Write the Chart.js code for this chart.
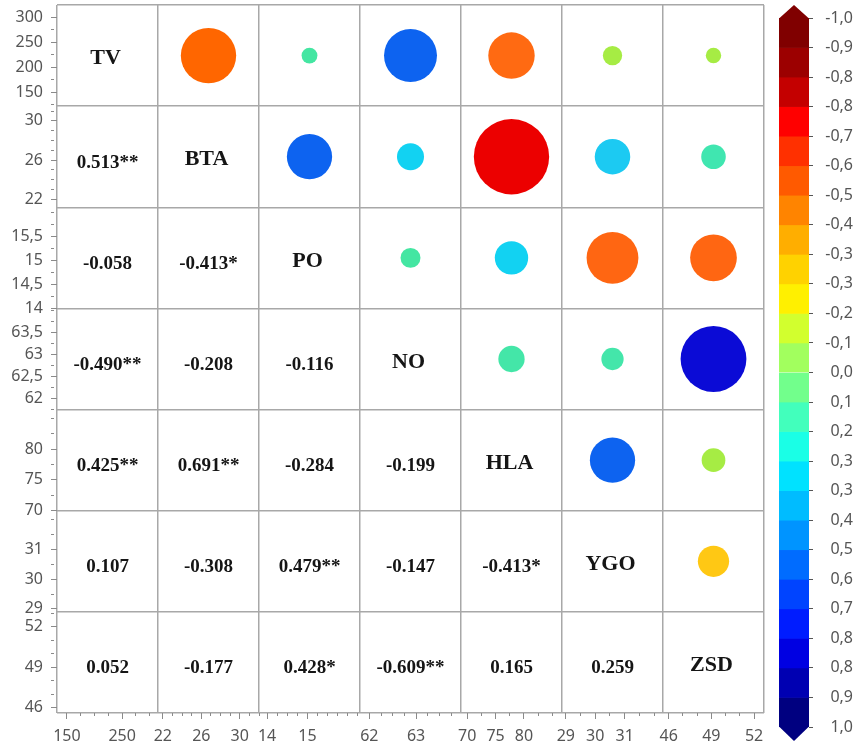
<!DOCTYPE html>
<html>
<head>
<meta charset="utf-8">
<script src="https://cdn.jsdelivr.net/npm/chart.js@4.4.1/dist/chart.umd.min.js"></script>
<style>
  html, body { margin: 0; padding: 0; background: #ffffff; }
  #wrap { position: relative; width: 858px; height: 749px; overflow: hidden; background: #ffffff; }
  #matrix { position: absolute; left: 0; top: 0; }
  #scale { position: absolute; left: 770px; top: 0; }
</style>
</head>
<body>
<div id="wrap">
  <canvas id="matrix" width="770" height="749"></canvas>
  <canvas id="scale" width="88" height="749"></canvas>
</div>
<script>
// ---- Variables ------------------------------------------------------------
const variables = ['TV', 'BTA', 'PO', 'NO', 'HLA', 'YGO', 'ZSD'];

// Pearson coefficients below the diagonal, one array per row (columns start at TV)
const rBTA = [0.513];
const rPO  = [-0.058, -0.413];
const rNO  = [-0.490, -0.208, -0.116];
const rHLA = [0.425, 0.691, -0.284, -0.199];
const rYGO = [0.107, -0.308, 0.479, -0.147, -0.413];
const rZSD = [0.052, -0.177, 0.428, -0.609, 0.165, 0.259];
const coefficients = [[], rBTA, rPO, rNO, rHLA, rYGO, rZSD];

// Significance marks (* p < 0.05, ** p < 0.01), same layout as the coefficients
const sigBTA = ['**'];
const sigPO  = ['', '*'];
const sigNO  = ['**', '', ''];
const sigHLA = ['**', '**', '', ''];
const sigYGO = ['', '', '**', '', '*'];
const sigZSD = ['', '', '*', '**', '', ''];
const significance = [[], sigBTA, sigPO, sigNO, sigHLA, sigYGO, sigZSD];

// Per-variable axes: value range, labelled ticks and minor tick step
const rowRanges = [[122, 324], [21.2, 31.5], [14, 16.1], [61.75, 64.05], [70, 86.4], [28.9, 32.3], [45.6, 53.1]];
const colRanges = [[132, 315], [21.5, 32], [13.8, 16.3], [61.8, 63.96], [68.9, 86.7], [28.87, 32.3], [45.6, 52.7]];
const rowMajorTicks = [[150, 200, 250, 300], [22, 26, 30], [14, 14.5, 15, 15.5], [62, 62.5, 63, 63.5], [70, 75, 80], [29, 30, 31], [46, 49, 52]];
const colMajorTicks = [[150, 250], [22, 26, 30], [14, 15], [62, 63], [70, 75, 80], [29, 30, 31], [46, 49, 52]];
const rowMinorSteps = [25, 1, 0.25, 0.25, 2.5, 0.5, 1];
const colMinorSteps = [25, 1, 0.25, 0.25, 2.5, 0.5, 1];

// Colour legend: tick labels and the 24 bands from -1 (top) to 1 (bottom)
const legendTickLabels = ['-1,0', '-0,9', '-0,8', '-0,8', '-0,7', '-0,6', '-0,5', '-0,4', '-0,3', '-0,3', '-0,2', '-0,1',
                          '0,0', '0,1', '0,2', '0,3', '0,3', '0,4', '0,5', '0,6', '0,7', '0,8', '0,8', '0,9', '1,0'];

// ---- Styles ---------------------------------------------------------------
const legendColours = ['#800000', '#9c0000', '#c40000', '#ff0000', '#ff3000', '#ff5a00', '#ff8400', '#ffae00',
                       '#ffd200', '#fff000', '#d2ff2e', '#a2ff5e', '#72ff8c', '#42ffbc', '#1affe6', '#00e2ff',
                       '#00bcff', '#0094ff', '#006cff', '#0044ff', '#001cff', '#0000e2', '#0000b2', '#000080'];
const bubbleColours = [
  [],
  ['#ff6600'],
  ['#44e6a2', '#0d63f0'],
  ['#0d63f0', '#12d2f2', '#44e6a2'],
  ['#ff6a12', '#ec0000', '#12d2f2', '#44e6a8'],
  ['#a6ec44', '#1ccaf2', '#ff6612', '#44e6aa', '#0d63f0'],
  ['#a6ec44', '#40e6b0', '#ff6612', '#0b0bd6', '#a6ec44', '#ffc814']
];
const gridColour = '#a8a8a8';
const axisTextColour = '#555555';
const axisFont = { family: "'Noto Sans', sans-serif", size: 16 };

Chart.defaults.font.family = "'Noto Sans', sans-serif";

// Bubble radius (px) grows with |r|
function bubbleRadius(r) {
  const a = Math.abs(r);
  return 6 + 32 * a + 20 * a * a;
}

function tickList(range, step) {
  const out = [];
  const start = Math.ceil(range[0] / step - 1e-9);
  for (let k = start; k * step <= range[1] + 1e-9; k++) {
    out.push(Math.round(k * step * 1e6) / 1e6);
  }
  return out;
}
const isMajor = (majors, v) => majors.some(m => Math.abs(m - v) < 1e-6);
const decimalComma = v => String(v).replace('.', ',');

// Stop axis labels near the ends from pushing the plot area inwards
function noEdgePadding(s) {
  s.paddingTop = 0; s.paddingBottom = 0; s.paddingLeft = 0; s.paddingRight = 0;
}

// ---- Bubbles (upper triangle) ----------------------------------------------
const bubblePoints = [];
const bubbleFill = [];
coefficients.forEach((row, i) => {
  row.forEach((r, j) => {
    bubblePoints.push({ x: variables[i], y: variables[j], r: bubbleRadius(r) });
    bubbleFill.push(bubbleColours[i][j]);
  });
});

// ---- Scales ---------------------------------------------------------------
const scales = {
  x: {
    type: 'category', labels: variables, position: 'bottom', offset: true,
    grid: { offset: true, color: gridColour, lineWidth: 1.5, drawTicks: false },
    ticks: { display: false }, border: { display: false },
    afterFit: s => { s.height = 0; noEdgePadding(s); }
  },
  y: {
    type: 'category', labels: variables, position: 'left', offset: true,
    grid: { offset: true, color: gridColour, lineWidth: 1.5, drawTicks: false },
    ticks: { display: false }, border: { display: false },
    afterFit: s => { s.width = 0; noEdgePadding(s); }
  }
};

function variableAxis(k, horizontal) {
  const range = horizontal ? colRanges[k] : rowRanges[k];
  const majors = horizontal ? colMajorTicks[k] : rowMajorTicks[k];
  const step = horizontal ? colMinorSteps[k] : rowMinorSteps[k];
  return {
    type: 'linear',
    position: horizontal ? 'bottom' : 'left',
    stack: horizontal ? 'columns' : 'rows',
    stackWeight: 1,
    weight: horizontal ? k + 1 : 7 - k,
    min: range[0], max: range[1],
    bounds: 'data',
    afterBuildTicks: s => { s.ticks = tickList(range, step).map(v => ({ value: v })); },
    afterFit: s => {
      if (horizontal) { s.height = 36; } else { s.width = 57; }
      noEdgePadding(s);
    },
    ticks: {
      autoSkip: false, maxRotation: 0, minRotation: 0,
      padding: 8,
      color: axisTextColour, font: axisFont,
      callback: v => isMajor(majors, v) ? decimalComma(v) : ''
    },
    grid: {
      drawOnChartArea: false, drawTicks: true, tickLength: 6,
      tickColor: '#8a8a8a', tickWidth: 1,
      tickBorderDash: ctx => (ctx.tick && isMajor(majors, ctx.tick.value)) ? [] : [3, 40]
    },
    border: { display: false }
  };
}
variables.forEach((_, k) => { scales['row' + k] = variableAxis(k, false); });
variables.forEach((_, k) => { scales['col' + k] = variableAxis(k, true); });

// ---- Text in the lower triangle and on the diagonal ------------------------
const cellText = {
  id: 'cellText',
  afterDatasetsDraw(chart) {
    const ctx = chart.ctx;
    const xs = chart.scales.x, ys = chart.scales.y;
    ctx.save();
    ctx.textAlign = 'center';
    ctx.textBaseline = 'middle';
    ctx.fillStyle = '#151515';
    variables.forEach((name, i) => {
      ctx.font = "bold 22px 'Liberation Serif', 'Times New Roman', serif";
      ctx.fillText(name, xs.getPixelForValue(i) - 2, ys.getPixelForValue(i) + 3);
      ctx.font = "bold 19px 'Liberation Serif', 'Times New Roman', serif";
      coefficients[i].forEach((r, j) => {
        const text = r.toFixed(3) + significance[i][j];
        ctx.fillText(text, xs.getPixelForValue(j), ys.getPixelForValue(i) + 6);
      });
    });
    ctx.restore();
  }
};

new Chart(document.getElementById('matrix'), {
  type: 'bubble',
  data: {
    datasets: [{
      data: bubblePoints,
      backgroundColor: bubbleFill,
      borderColor: bubbleFill,
      borderWidth: 0,
      xAxisID: 'x', yAxisID: 'y'
    }]
  },
  options: {
    responsive: false,
    animation: false,
    events: [],
    clip: false,
    layout: { autoPadding: false, padding: { top: 5, right: 6, bottom: 0, left: 0 } },
    plugins: { legend: { display: false }, tooltip: { enabled: false } },
    scales
  },
  plugins: [cellText]
});

// ---- Colour legend --------------------------------------------------------
const legendEdges = legendTickLabels.map((_, k) => -1 + k / 12);
const legendDatasets = legendColours.map((c, k) => ({
  data: [[legendEdges[k], legendEdges[k + 1]]],
  backgroundColor: c,
  borderWidth: 0,
  grouped: false,
  barPercentage: 1,
  categoryPercentage: 1
}));

const legendArrows = {
  id: 'legendArrows',
  afterDatasetsDraw(chart) {
    const { left, right } = chart.chartArea;
    const y = chart.scales.y;
    const top = y.getPixelForValue(-1);
    const bottom = y.getPixelForValue(1);
    const mid = (left + right) / 2;
    const ctx = chart.ctx;
    ctx.save();
    ctx.fillStyle = legendColours[0];
    ctx.beginPath();
    ctx.moveTo(left, top + 0.5); ctx.lineTo(right, top + 0.5); ctx.lineTo(mid, top - 13); ctx.closePath();
    ctx.fill();
    ctx.fillStyle = legendColours[legendColours.length - 1];
    ctx.beginPath();
    ctx.moveTo(left, bottom - 0.5); ctx.lineTo(right, bottom - 0.5); ctx.lineTo(mid, bottom + 14); ctx.closePath();
    ctx.fill();
    ctx.restore();
  }
};

new Chart(document.getElementById('scale'), {
  type: 'bar',
  data: { labels: [''], datasets: legendDatasets },
  options: {
    responsive: false,
    animation: false,
    events: [],
    layout: { autoPadding: false, padding: { top: 18, bottom: 22, left: 9, right: 5 } },
    plugins: { legend: { display: false }, tooltip: { enabled: false } },
    scales: {
      x: { display: false },
      y: {
        type: 'linear', position: 'right', reverse: true,
        min: -1, max: 1, bounds: 'data',
        afterBuildTicks: s => { s.ticks = legendEdges.map(v => ({ value: v })); },
        afterFit: s => { s.width = 44; noEdgePadding(s); },
        ticks: {
          autoSkip: false, crossAlign: 'far', padding: 7,
          color: axisTextColour, font: axisFont,
          callback: (v, idx) => legendTickLabels[idx]
        },
        grid: { drawOnChartArea: false, tickLength: 4, tickColor: '#555555' },
        border: { display: false }
      }
    }
  },
  plugins: [legendArrows]
});
</script>
</body>
</html>
